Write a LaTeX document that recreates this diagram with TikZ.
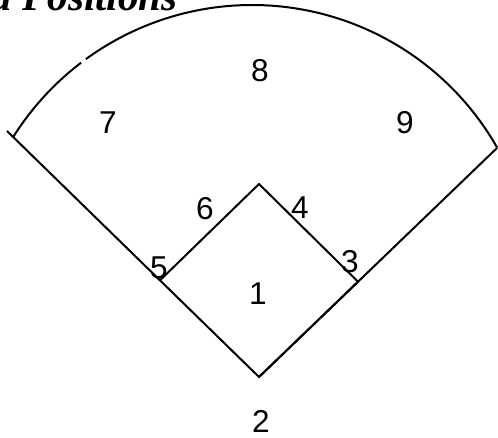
\documentclass[tikz,border=0pt]{standalone}
\usepackage{fontspec}
\setmainfont{Liberation Serif}
\setsansfont{Liberation Sans}
\usepackage{xcolor}
\definecolor{fieldblack}{RGB}{0, 0, 0}
\usepackage{tikz}
\usetikzlibrary{positioning, calc}
\tikzset{
    poslabel/.style={font=\sffamily\fontsize{15.8pt}{15.8pt}\selectfont, inner sep=0pt, fieldblack},
    fieldline/.style={line width=1pt, fieldblack},
}

\begin{document}
\begin{tikzpicture}[x=0.5pt, y=0.5pt]
    \useasboundingbox (0,0) rectangle (498,438);
    \clip (0,0) rectangle (498,438);
    \node[anchor=base east, inner sep=0pt, font=\bfseries\itshape\fontsize{20.5pt}{20.5pt}\selectfont] (title) at (178,427) {Field Positions};

    % diamond and foul lines
    \coordinate (home) at (259,61);
    \coordinate (lfoul) at (7,307);
    \coordinate (rfoul) at (497,290);
    \coordinate (first) at ($(home)!0.416!(rfoul)$);
    \coordinate (third) at ($(home)!0.393!(lfoul)$);
    \coordinate (second) at (259,254);
    \coordinate (fence) at (252,151);
    \draw[fieldline] (home) -- (first) -- (second) -- (third);
    \draw[fieldline] (lfoul) -- (home) -- (rfoul);

    % outfield fence, with a small break on the left
    \draw[fieldline] ($(fence)+(29.6:141pt)$) arc[start angle=29.6, end angle=126.1, radius=141pt];
    \draw[fieldline] ($(fence)+(127.3:141pt)$) arc[start angle=127.3, end angle=147.9, radius=141pt];

    \node[poslabel] (p1) at (258,144) {1};
    \node[poslabel] (p2) at (261,17) {2};
    \node[poslabel] (p3) at (350,176) {3};
    \node[poslabel] (p4) at (300,230) {4};
    \node[poslabel] (p5) at (159,170) {5};
    \node[poslabel] (p6) at (205,229) {6};
    \node[poslabel] (p7) at (108,315) {7};
    \node[poslabel] (p8) at (260,367) {8};
    \node[poslabel] (p9) at (405,315) {9};
\end{tikzpicture}
\end{document}
